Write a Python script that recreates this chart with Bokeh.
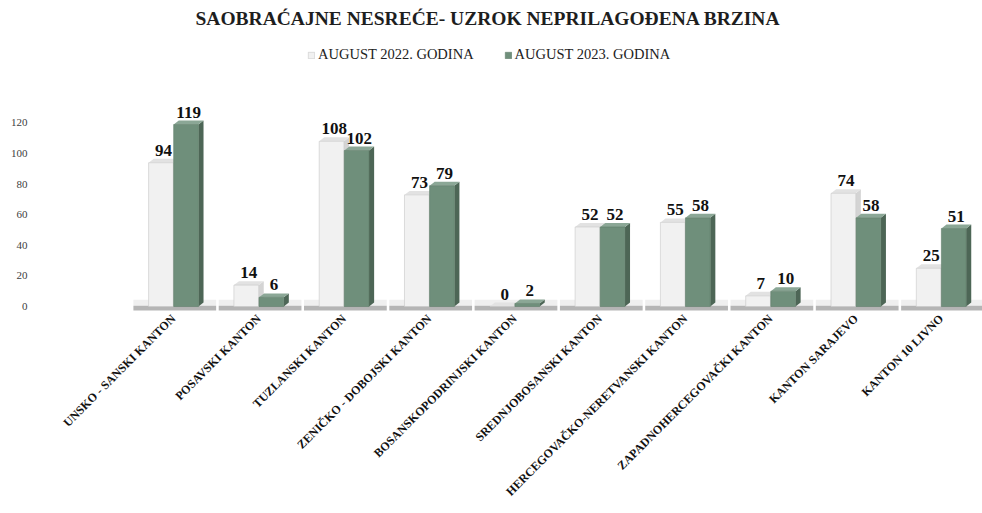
import math
from bokeh.plotting import figure
from bokeh.models import Range1d, FixedTicker, Legend, LegendItem, ColumnDataSource
from bokeh.core.properties import value
from bokeh.embed import file_html
from bokeh.resources import INLINE

# ---- data ----
categories = [
    "UNSKO - SANSKI KANTON",
    "POSAVSKI KANTON",
    "TUZLANSKI KANTON",
    "ZENIČKO - DOBOJSKI KANTON",
    "BOSANSKOPODRINJSKI KANTON",
    "SREDNJOBOSANSKI KANTON",
    "HERCEGOVAČKO-NERETVANSKI KANTON",
    "ZAPADNOHERCEGOVAČKI KANTON",
    "KANTON SARAJEVO",
    "KANTON 10 LIVNO",
]
aug_2022 = [94, 14, 108, 73, 0, 52, 55, 7, 74, 25]
aug_2023 = [119, 6, 102, 79, 2, 52, 58, 10, 58, 51]
series_names = ["AUGUST 2022. GODINA", "AUGUST 2023. GODINA"]
y_ticks = [0, 20, 40, 60, 80, 100, 120]

SERIF = "Liberation Serif"

xs = list(range(len(categories)))
BW = 0.29      # bar width (x units)
OFF = 0.147    # half spacing between the two bars
DX = 0.06      # depth offset x (units)
DY = 2.6       # depth offset y (units)

p = figure(width=982, height=513, output_backend="svg", toolbar_location=None,
           x_range=Range1d(-1.653, 9.484), y_range=Range1d(-3.9, 178.5),
           min_border_left=32, min_border_right=0, min_border_top=30,
           min_border_bottom=201)
p.outline_line_color = None
p.grid.visible = False
p.background_fill_color = "white"

p.title.text = "SAOBRAĆAJNE NESREĆE- UZROK NEPRILAGOĐENA BRZINA"
p.title.align = "left"
p.title.offset = 163
p.title.text_font = SERIF
p.title.text_font_size = "19.5px"
p.title.text_font_style = "bold"
p.title.text_color = "#1e1e1e"

# floor shadow per category
p.quad(left=[x - 0.47 for x in xs], right=[x + 0.5 for x in xs],
       bottom=[0.5] * len(xs), top=[4.5] * len(xs),
       fill_color="#efefef", line_color=None)
p.quad(left=[x - 0.47 for x in xs], right=[x + 0.5 for x in xs],
       bottom=[-2.6] * len(xs), top=[0.5] * len(xs),
       fill_color="#b5b5b5", line_color=None)


def faces(vals, shift):
    side_x, side_y, top_x, top_y = [], [], [], []
    for x, v in zip(xs, vals):
        l = x + shift - BW / 2
        r = x + shift + BW / 2
        side_x.append([r, r + DX, r + DX, r])
        side_y.append([0, DY, v + DY, v])
        top_x.append([l, r, r + DX, l + DX])
        top_y.append([v, v, v + DY, v + DY])
    return side_x, side_y, top_x, top_y


styles = [
    dict(front="#f1f1f1", side="#d4d4d4", top="#e2e2e2", edge="#c8c8c8"),
    dict(front="#6f8f7b", side="#4d6656", top="#8ba796", edge="#5f7d6a"),
]
renderers = []
for vals, shift, st in zip([aug_2022, aug_2023], [-OFF, OFF], styles):
    sx, sy, tx, ty = faces(vals, shift)
    p.patches(sx, sy, fill_color=st["side"], line_color=None)
    p.patches(tx, ty, fill_color=st["top"], line_color=None)
    r = p.vbar(x=[x + shift for x in xs], top=vals, bottom=0, width=BW,
               fill_color=st["front"], line_color=st["edge"], line_width=0.6)
    renderers.append(r)

# data labels
for vals, shift in zip([aug_2022, aug_2023], [-OFF, OFF]):
    src = ColumnDataSource(dict(x=[x + shift + DX / 2 for x in xs],
                                y=[v + DY for v in vals],
                                t=[str(v) for v in vals]))
    p.text(x="x", y="y", text="t", source=src, text_align="center",
           text_baseline="bottom", y_offset=-3,
           text_font=value(SERIF), text_font_size="17px",
           text_font_style="bold", text_color="#111111")

# axes
xa = p.xaxis[0]
xa.ticker = FixedTicker(ticks=xs)
xa.major_label_overrides = {x: c for x, c in zip(xs, categories)}
xa.major_label_orientation = math.pi / 4
xa.major_label_text_font = SERIF
xa.major_label_text_font_size = "12px"
xa.major_label_text_font_style = "bold"
xa.major_label_text_color = "#111111"
xa.axis_line_color = None
xa.major_tick_line_color = None
xa.minor_tick_line_color = None
xa.major_tick_in = 0
xa.major_tick_out = 0
xa.major_label_standoff = 4

ya = p.yaxis[0]
ya.ticker = FixedTicker(ticks=y_ticks)
ya.major_label_text_font = SERIF
ya.major_label_text_font_size = "11px"
ya.major_label_text_color = "#404040"
ya.axis_line_color = None
ya.major_tick_line_color = None
ya.minor_tick_line_color = None
ya.major_tick_in = 0
ya.major_tick_out = 0
ya.major_label_standoff = 5

legend = Legend(items=[LegendItem(label=n, renderers=[r]) for n, r in zip(series_names, renderers)],
                orientation="horizontal", location=(275, 249),
                border_line_color=None, background_fill_alpha=0,
                label_text_font=SERIF, label_text_font_size="14.5px",
                label_text_color="#222222", glyph_width=8, glyph_height=8,
                spacing=30, margin=0, padding=4, label_standoff=3)
p.add_layout(legend, "center")

open("out.html", "w").write(file_html(p, INLINE))
